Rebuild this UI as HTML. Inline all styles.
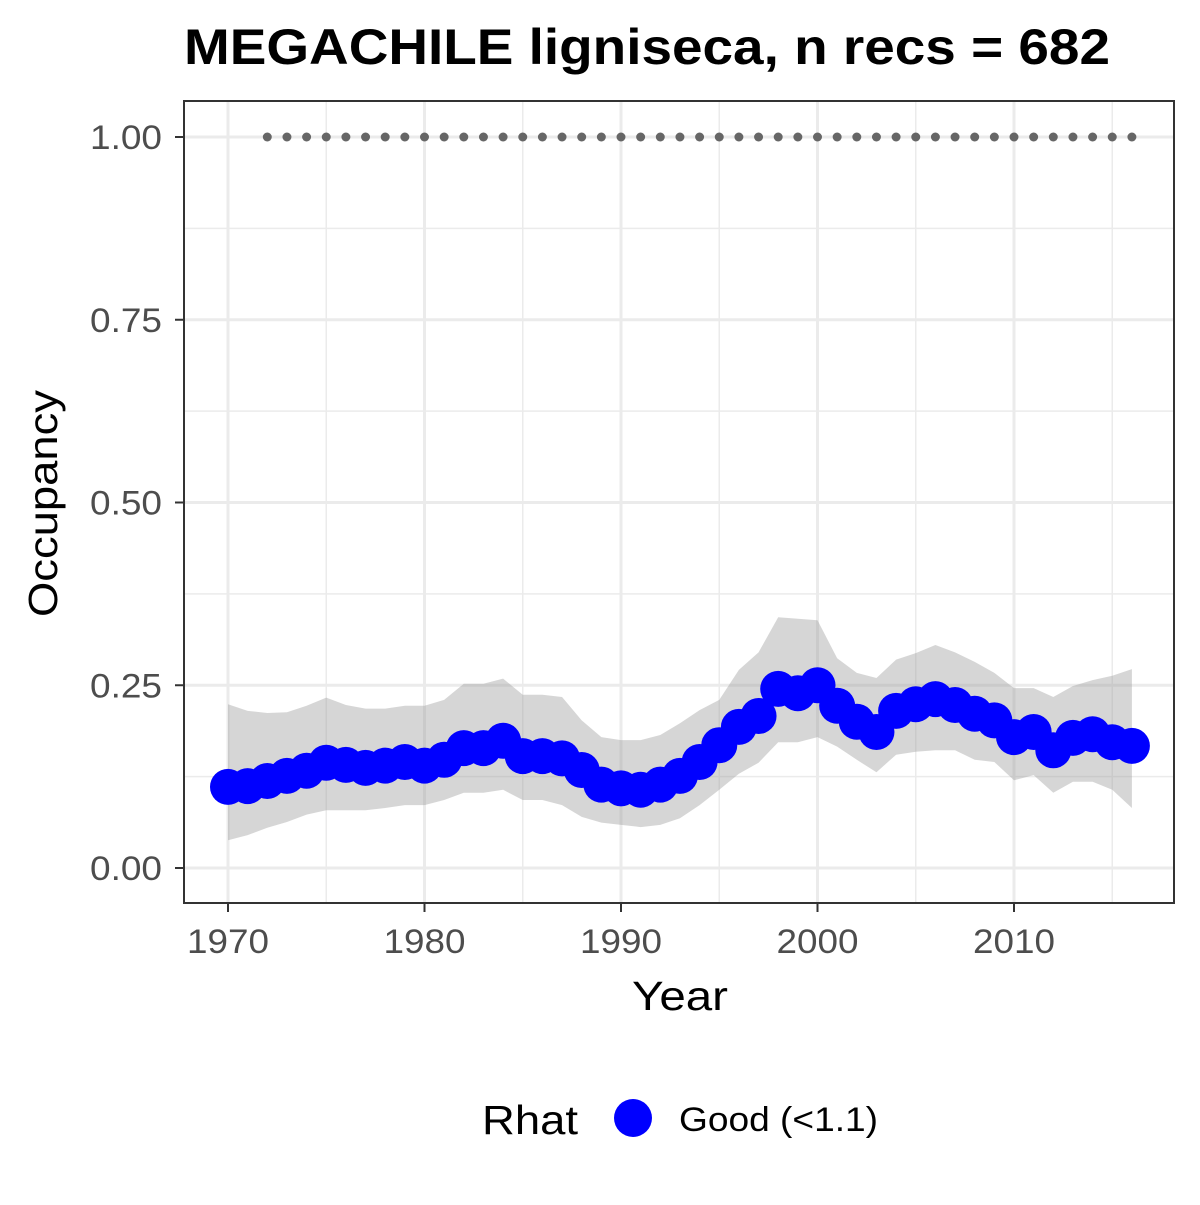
<!DOCTYPE html>
<html><head><meta charset="utf-8"><style>
body{margin:0;background:#fff}
svg text{font-family:"Liberation Sans",Arial,sans-serif}
</style></head><body>
<svg id="chart" width="1200" height="1200" xmlns="http://www.w3.org/2000/svg">
<rect width="1200" height="1200" fill="#fff"/>
<text x="184" y="64" font-size="50" font-weight="bold" fill="#000" textLength="926" lengthAdjust="spacingAndGlyphs">MEGACHILE ligniseca, n recs = 682</text>
<g id="grid"></g>
<g id="band"></g>
<g id="dots"></g>
<g id="pts"></g>
<rect x="184" y="101" width="990" height="802" fill="none" stroke="#333" stroke-width="2"/>
<g id="axes"></g>
<text x="632" y="1010" font-size="41" fill="#000" textLength="96" lengthAdjust="spacingAndGlyphs">Year</text>
<text transform="translate(57,617) rotate(-90)" font-size="41" fill="#000" textLength="227" lengthAdjust="spacingAndGlyphs">Occupancy</text>
<g>
<text x="482" y="1134" font-size="41" fill="#000" textLength="96" lengthAdjust="spacingAndGlyphs">Rhat</text>
<circle cx="633" cy="1118" r="19" fill="#0000ff"/>
<text x="679" y="1131" font-size="34" fill="#000" textLength="199" lengthAdjust="spacingAndGlyphs">Good (&lt;1.1)</text>
</g>
</svg>
<script>
const years=[1970,1971,1972,1973,1974,1975,1976,1977,1978,1979,1980,1981,1982,1983,1984,1985,1986,1987,1988,1989,1990,1991,1992,1993,1994,1995,1996,1997,1998,1999,2000,2001,2002,2003,2004,2005,2006,2007,2008,2009,2010,2011,2012,2013,2014,2015,2016];
const meanOcc=[.111,.112,.119,.126,.133,.144,.141,.137,.140,.145,.140,.148,.164,.164,.174,.153,.153,.150,.134,.114,.109,.107,.114,.126,.145,.168,.193,.208,.245,.239,.250,.222,.200,.186,.215,.224,.231,.223,.211,.202,.179,.186,.161,.178,.183,.172,.167];
const upperCI=[.224,.215,.212,.213,.222,.233,.223,.218,.218,.222,.222,.230,.252,.252,.259,.237,.237,.234,.202,.179,.175,.175,.182,.198,.216,.230,.271,.295,.343,.341,.339,.287,.267,.260,.285,.294,.305,.295,.282,.267,.246,.246,.234,.249,.257,.263,.272];
const lowerCI=[.038,.045,.055,.063,.073,.079,.079,.079,.082,.086,.086,.093,.103,.103,.107,.093,.093,.086,.070,.062,.059,.056,.059,.068,.086,.107,.129,.144,.172,.172,.179,.166,.148,.131,.155,.159,.161,.161,.148,.145,.120,.127,.103,.118,.118,.107,.082];
const dotYears=[1972,1973,1974,1975,1976,1977,1978,1979,1980,1981,1982,1983,1984,1985,1986,1987,1988,1989,1990,1991,1992,1993,1994,1995,1996,1997,1998,1999,2000,2001,2002,2003,2004,2005,2006,2007,2008,2009,2010,2011,2012,2013,2014,2015,2016];
const dotValue=1.0;
const xTicks=[1970,1980,1990,2000,2010];
const yTicks=[0,0.25,0.5,0.75,1.0];
const yTickLabels=["0.00","0.25","0.50","0.75","1.00"];

const NS="http://www.w3.org/2000/svg";
const X=v=>228+(v-1970)*(1014-228)/40;
const Y=v=>868-v*731;
function mk(tag,attrs,parent){const e=document.createElementNS(NS,tag);for(const k in attrs)e.setAttribute(k,attrs[k]);parent.appendChild(e);return e;}
const grid=document.getElementById('grid'),axes=document.getElementById('axes');
[1975,1985,1995,2005,2015].forEach(v=>{const l=mk('line',{x1:X(v),x2:X(v),y1:101,y2:903,stroke:'#ebebeb','stroke-width':1.5},grid);

});
[0.125,0.375,0.625,0.875].forEach(v=>{const l=mk('line',{x1:184,x2:1174,y1:Y(v),y2:Y(v),stroke:'#ebebeb','stroke-width':1.5},grid);

});
xTicks.forEach(v=>{const l=mk('line',{x1:X(v),x2:X(v),y1:101,y2:903,stroke:'#ebebeb','stroke-width':3},grid);


const t=mk('line',{x1:X(v),x2:X(v),y1:903,y2:912,stroke:'#333','stroke-width':2},axes);


const tx=mk('text',{x:X(v)-41,y:953,'font-size':34,fill:'#4d4d4d',textLength:82,lengthAdjust:'spacingAndGlyphs'},axes);tx.textContent=v;

});
yTicks.forEach((v,i)=>{const l=mk('line',{x1:184,x2:1174,y1:Y(v),y2:Y(v),stroke:'#ebebeb','stroke-width':3},grid);


const t=mk('line',{x1:175,x2:184,y1:Y(v),y2:Y(v),stroke:'#333','stroke-width':2},axes);


const tx=mk('text',{x:90,y:Y(v)+12,'font-size':34,fill:'#4d4d4d',textLength:72,lengthAdjust:'spacingAndGlyphs'},axes);tx.textContent=yTickLabels[i];

});
let d='M'+years.map((y,i)=>X(y)+','+Y(upperCI[i])).join('L');
for(let i=years.length-1;i>=0;i--)d+='L'+X(years[i])+','+Y(lowerCI[i]);
const band=mk('path',{d:d+'Z',fill:'#999','fill-opacity':0.4},document.getElementById('band'));


dotYears.forEach(y=>{const c=mk('circle',{cx:X(y),cy:Y(dotValue),r:4.5,fill:'#666'},document.getElementById('dots'));

});
years.forEach((y,i)=>{const c=mk('circle',{cx:X(y),cy:Y(meanOcc[i]),r:18,fill:'#0000ff'},document.getElementById('pts'));

});
</script>
</body></html>
